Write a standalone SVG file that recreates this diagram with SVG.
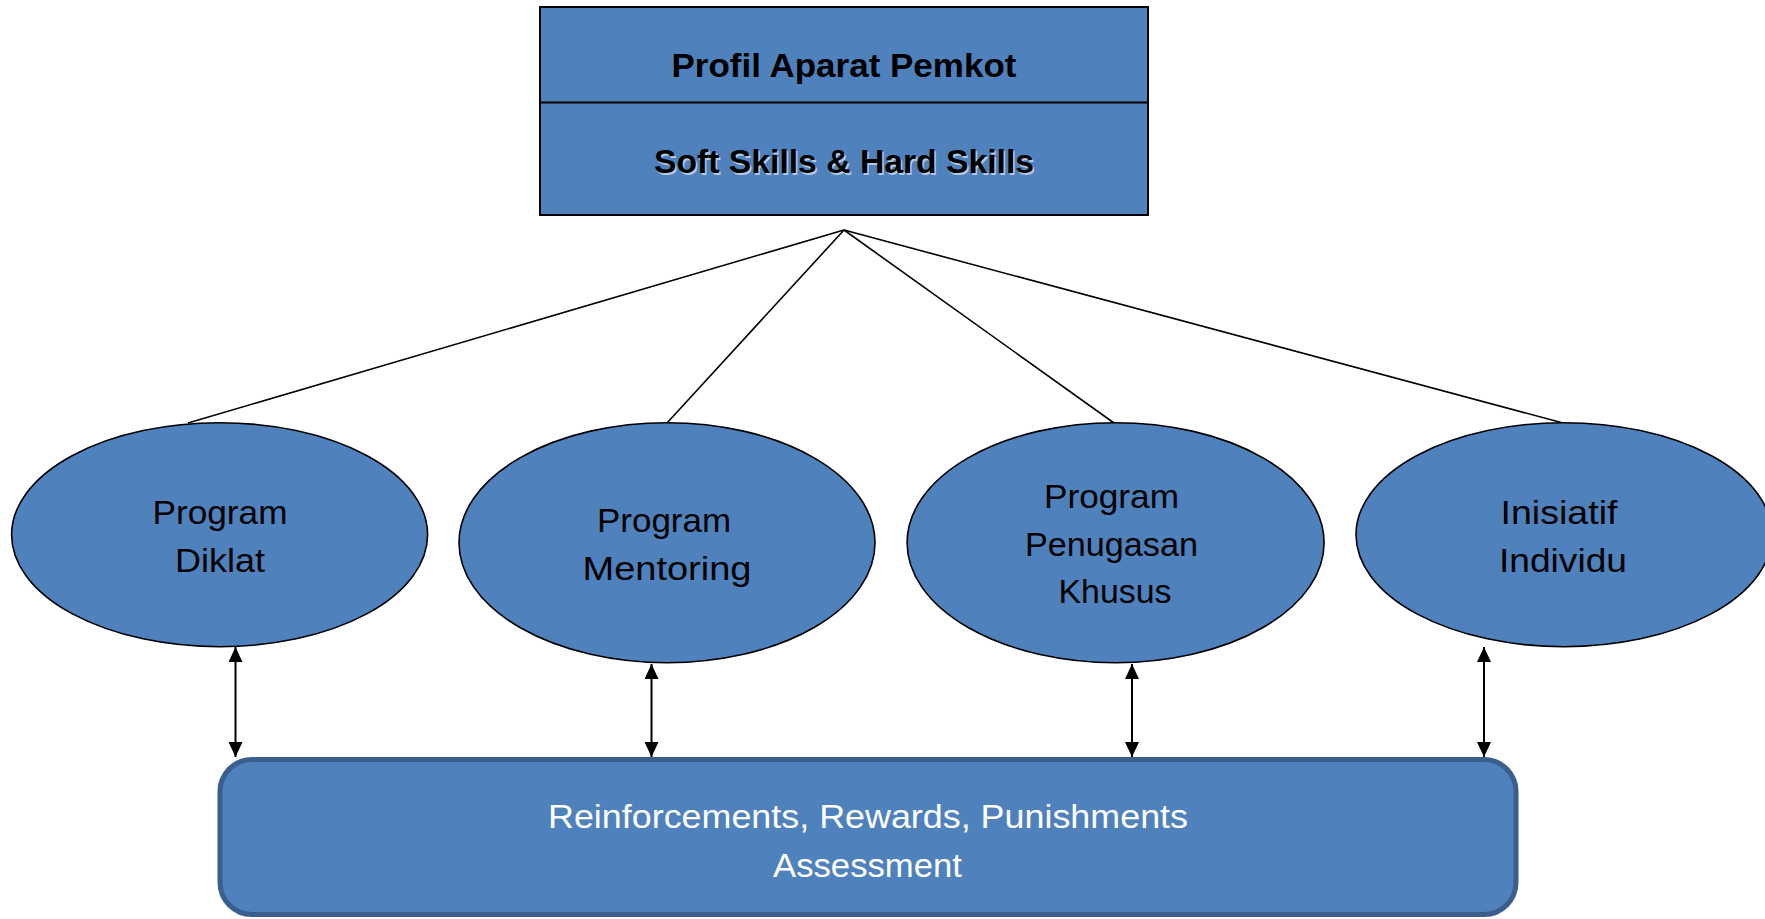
<svg xmlns="http://www.w3.org/2000/svg" width="1765" height="919" viewBox="0 0 1765 919">
<defs>
<style>
.node{fill:#4F81BD;stroke:#000;stroke-width:1.6}
.box{fill:#4F81BD;stroke:#000;stroke-width:2}
.base{fill:#4F81BD;stroke:#3A5F8C;stroke-width:5}
.t{font-family:"Liberation Sans",Arial,sans-serif;font-size:34px;fill:#000;text-anchor:middle}
.tb{font-family:"Liberation Sans",Arial,sans-serif;font-size:34px;font-weight:bold;fill:#000;text-anchor:middle}
.tw{font-family:"Liberation Sans",Arial,sans-serif;font-size:34px;fill:#fff;text-anchor:middle}
.shadow{fill:#c9d6ea;opacity:0.85}
.link{stroke:#000;stroke-width:1.6;fill:none}
.arr{stroke:#000;stroke-width:2;fill:none;marker-start:url(#ah);marker-end:url(#ah)}
</style>
<marker id="ah" viewBox="0 0 15 14" refX="15" refY="7" markerWidth="15" markerHeight="14" markerUnits="userSpaceOnUse" orient="auto-start-reverse">
<path d="M0,0 L15,7 L0,14 z" fill="#000"/>
</marker>
</defs>
<rect width="1765" height="919" fill="#fff"/>

<g id="connectors">
<line class="link" x1="844" y1="230" x2="188" y2="423"/>
<line class="link" x1="844" y1="230" x2="667" y2="423"/>
<line class="link" x1="844" y1="230" x2="1114" y2="423"/>
<line class="link" x1="844" y1="230" x2="1563" y2="423"/>
<line class="arr" x1="235.5" y1="647" x2="235.5" y2="757"/>
<line class="arr" x1="651.5" y1="664" x2="651.5" y2="757"/>
<line class="arr" x1="1132" y1="664" x2="1132" y2="757"/>
<line class="arr" x1="1484" y1="647" x2="1484" y2="757"/>
</g>

<g id="profil">
<rect class="box" x="540" y="7" width="608" height="208"/>
<line x1="540" y1="102.5" x2="1148" y2="102.5" stroke="#000" stroke-width="2"/>
<text class="tb" x="844" y="77" textLength="345" lengthAdjust="spacingAndGlyphs">Profil Aparat Pemkot</text>
<text class="tb shadow" x="845.5" y="174.5" textLength="380" lengthAdjust="spacingAndGlyphs">Soft Skills &amp; Hard Skills</text>
<text class="tb" x="844" y="173" textLength="380" lengthAdjust="spacingAndGlyphs">Soft Skills &amp; Hard Skills</text>
</g>

<g id="diklat">
<ellipse class="node" cx="219.6" cy="534.7" rx="208" ry="112"/>
<text class="t" x="220" y="524" textLength="135" lengthAdjust="spacingAndGlyphs">Program</text>
<text class="t" x="220" y="571.5" textLength="90" lengthAdjust="spacingAndGlyphs">Diklat</text>
</g>

<g id="mentoring">
<ellipse class="node" cx="667" cy="542.7" rx="208" ry="120"/>
<text class="t" x="664" y="531.5" textLength="134" lengthAdjust="spacingAndGlyphs">Program</text>
<text class="t" x="667" y="580" textLength="169" lengthAdjust="spacingAndGlyphs">Mentoring</text>
</g>

<g id="penugasan">
<ellipse class="node" cx="1115.6" cy="542.7" rx="208.5" ry="120"/>
<text class="t" x="1111.5" y="508" textLength="135" lengthAdjust="spacingAndGlyphs">Program</text>
<text class="t" x="1111.5" y="556" textLength="173" lengthAdjust="spacingAndGlyphs">Penugasan</text>
<text class="t" x="1115" y="603" textLength="113" lengthAdjust="spacingAndGlyphs">Khusus</text>
</g>

<g id="inisiatif">
<ellipse class="node" cx="1564" cy="534.7" rx="208" ry="112"/>
<text class="t" x="1559" y="524" textLength="117" lengthAdjust="spacingAndGlyphs">Inisiatif</text>
<text class="t" x="1563" y="571.5" textLength="128" lengthAdjust="spacingAndGlyphs">Individu</text>
</g>

<g id="assessment">
<rect class="base" x="220" y="759.5" width="1296" height="155" rx="32" ry="32"/>
<text class="tw" x="868" y="828" textLength="640" lengthAdjust="spacingAndGlyphs">Reinforcements, Rewards, Punishments</text>
<text class="tw" x="867.5" y="877" textLength="189" lengthAdjust="spacingAndGlyphs">Assessment</text>
</g>
</svg>
